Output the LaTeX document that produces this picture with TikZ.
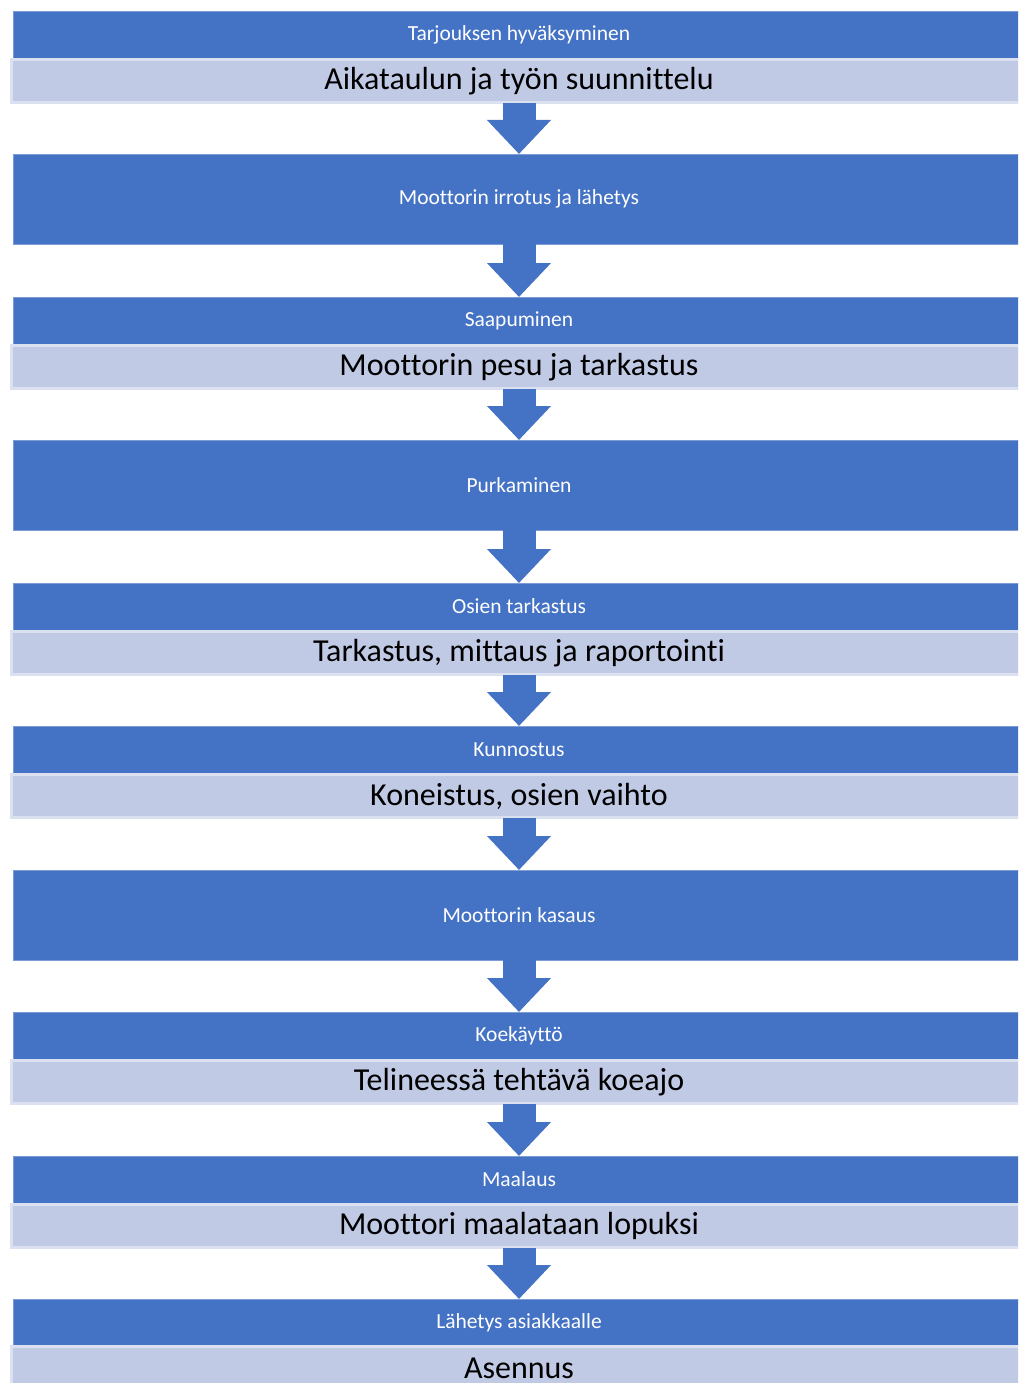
\documentclass[tikz,border=0pt]{standalone}
\usepackage{fontspec}
\setmainfont{Carlito}[Ligatures=CommonOff]
\usetikzlibrary{arrows.meta}
\definecolor{StageBlue}{HTML}{4472C4}
\definecolor{StageLight}{HTML}{C1CAE5}
\definecolor{StageEdge}{HTML}{DCE1F1}

\begin{document}
\begin{tikzpicture}[x=1pt,y=-1pt,line join=miter,
  stagebox/.style={fill=StageBlue,draw=StageBlue!70!white,line width=.8pt,minimum width=1012pt,inner sep=0pt,outer sep=0pt,text=white,font=\fontsize{21.5}{24}\selectfont},
  notebox/.style={fill=StageLight,draw=StageEdge,line width=3pt,minimum width=1015pt,minimum height=43pt,inner sep=0pt,outer sep=0pt,font=\fontsize{32}{36}\selectfont},
  flowarrow/.style={StageBlue,line width=33pt,line cap=butt,-{Triangle[width=62pt,length=34pt]}}]
  \useasboundingbox (0,0) rectangle (1018,1383);
  \clip (0,0) rectangle (1018,1383);
  % stages
  \node[stagebox,minimum height=47pt] (tarjous) at (519,34.5) {Tarjouksen hyväksyminen};
  \node[notebox] (aikataulu) at (519,81.5) {Aikataulun ja työn suunnittelu};
  \node[stagebox,minimum height=90pt] (irrotus) at (519,199) {Moottorin irrotus ja lähetys};
  \node[stagebox,minimum height=47pt] (saapuminen) at (519,320.5) {Saapuminen};
  \node[notebox] (pesu) at (519,367) {Moottorin pesu ja tarkastus};
  \node[stagebox,minimum height=90pt] (purkaminen) at (519,485) {Purkaminen};
  \node[stagebox,minimum height=47pt] (osat) at (519,606.5) {Osien tarkastus};
  \node[notebox] (mittaus) at (519,653) {Tarkastus, mittaus ja raportointi};
  \node[stagebox,minimum height=47pt] (kunnostus) at (519,749.5) {Kunnostus};
  \node[notebox] (koneistus) at (519,796) {Koneistus, osien vaihto};
  \node[stagebox,minimum height=90pt] (kasaus) at (519,915) {Moottorin kasaus};
  \node[stagebox,minimum height=47pt] (koekaytto) at (519,1035.5) {Koekäyttö};
  \node[notebox] (koeajo) at (519,1082) {Telineessä tehtävä koeajo};
  \node[stagebox,minimum height=47pt] (maalaus) at (519,1179.5) {Maalaus};
  \node[notebox] (maalataan) at (519,1226) {Moottori maalataan lopuksi};
  \node[stagebox,minimum height=47pt] (lahetys) at (519,1322.5) {Lähetys asiakkaalle};
  \node[notebox] (asennus) at (519,1368) {Asennus};
  % arrows
  \draw[flowarrow] (aikataulu.south)--(irrotus.north);
  \draw[flowarrow] (irrotus.south)--(saapuminen.north);
  \draw[flowarrow] (pesu.south)--(purkaminen.north);
  \draw[flowarrow] (purkaminen.south)--(osat.north);
  \draw[flowarrow] (mittaus.south)--(kunnostus.north);
  \draw[flowarrow] (koneistus.south)--(kasaus.north);
  \draw[flowarrow] (kasaus.south)--(koekaytto.north);
  \draw[flowarrow] (koeajo.south)--(maalaus.north);
  \draw[flowarrow] (maalataan.south)--(lahetys.north);
\end{tikzpicture}
\end{document}
